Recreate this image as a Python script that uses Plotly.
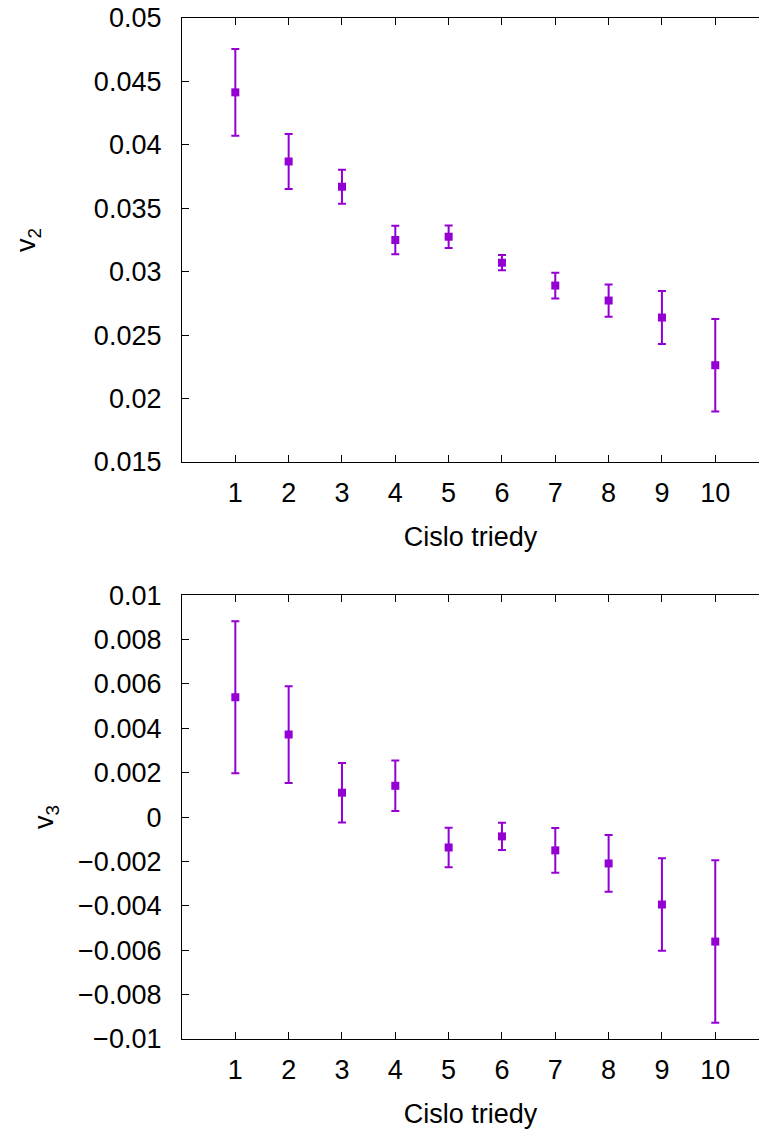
import plotly.graph_objects as go
from plotly.subplots import make_subplots

# Class number (Cislo triedy)
classes = [1, 2, 3, 4, 5, 6, 7, 8, 9, 10]

# v2 per class with its uncertainty
v2 = [0.04414, 0.03869, 0.03670, 0.03250, 0.03276, 0.03071, 0.02891, 0.02773, 0.02639, 0.02263]
v2_err = [0.00342, 0.00217, 0.00134, 0.00113, 0.00089, 0.00060, 0.00101, 0.00127, 0.00209, 0.00364]

# v3 per class with its uncertainty
v3 = [0.00540, 0.00372, 0.00110, 0.00141, -0.00137, -0.00087, -0.00150, -0.00209, -0.00394, -0.00561]
v3_err = [0.00342, 0.00218, 0.00134, 0.00114, 0.00089, 0.00061, 0.00101, 0.00128, 0.00208, 0.00366]

v2_ticks = [0.015, 0.02, 0.025, 0.03, 0.035, 0.04, 0.045, 0.05]
v2_ticktext = ["0.015", "0.02", "0.025", "0.03", "0.035", "0.04", "0.045", "0.05"]
v3_ticks = [-0.01, -0.008, -0.006, -0.004, -0.002, 0, 0.002, 0.004, 0.006, 0.008, 0.01]
v3_ticktext = ["\u22120.01", "\u22120.008", "\u22120.006", "\u22120.004", "\u22120.002", "0",
               "0.002", "0.004", "0.006", "0.008", "0.01"]

COLOR = "#9400D3"
FONT = "Liberation Sans, Arial, sans-serif"
FS = 27

fig = make_subplots(rows=2, cols=1, vertical_spacing=0.0)


def add_series(y, err, row):
    fig.add_trace(
        go.Scatter(
            x=classes, y=y, mode="markers",
            marker=dict(symbol="square", size=8, color=COLOR),
            error_y=dict(type="data", array=err, visible=True,
                         color=COLOR, thickness=2, width=4),
            showlegend=False,
        ),
        row=row, col=1,
    )


add_series(v2, v2_err, 1)
add_series(v3, v3_err, 2)

xcommon = dict(
    range=[0, 10.82], tickvals=classes, ticktext=[str(c) for c in classes],
    ticks="inside", ticklen=7, tickwidth=1, tickcolor="black",
    showline=True, linecolor="black", linewidth=1.3, mirror="ticks",
    showgrid=False, zeroline=False,
    tickfont=dict(family=FONT, size=FS, color="black"),
    ticklabelstandoff=6,
    title=dict(text="Cislo triedy", font=dict(family=FONT, size=FS, color="black"), standoff=20),
)
ycommon = dict(
    ticks="inside", ticklen=7, tickwidth=1, tickcolor="black",
    showline=True, linecolor="black", linewidth=1.3, mirror=False,
    showgrid=False, zeroline=False,
    tickfont=dict(family=FONT, size=FS, color="black"),
    ticklabelstandoff=14,
)

fig.update_xaxes(**xcommon)
fig.update_yaxes(**ycommon)

fig.update_layout(
    width=759, height=1130,
    margin=dict(l=182, r=0, t=18, b=91),
    plot_bgcolor="white", paper_bgcolor="white",
    font=dict(family=FONT, size=FS, color="black"),
    xaxis=dict(domain=[0, 1]),
    xaxis2=dict(domain=[0, 1]),
    yaxis=dict(domain=[0.5651, 1.0], range=[0.015, 0.05],
               tickvals=v2_ticks, ticktext=v2_ticktext,
               title=dict(text="v<sub>2</sub>", font=dict(family=FONT, size=FS, color="black"), standoff=50)),
    yaxis2=dict(domain=[0.0, 0.4347], range=[-0.01, 0.01],
                tickvals=v3_ticks, ticktext=v3_ticktext,
                title=dict(text="v<sub>3</sub>", font=dict(family=FONT, size=FS, color="black"), standoff=16)),
)

fig.write_html("out.html")
